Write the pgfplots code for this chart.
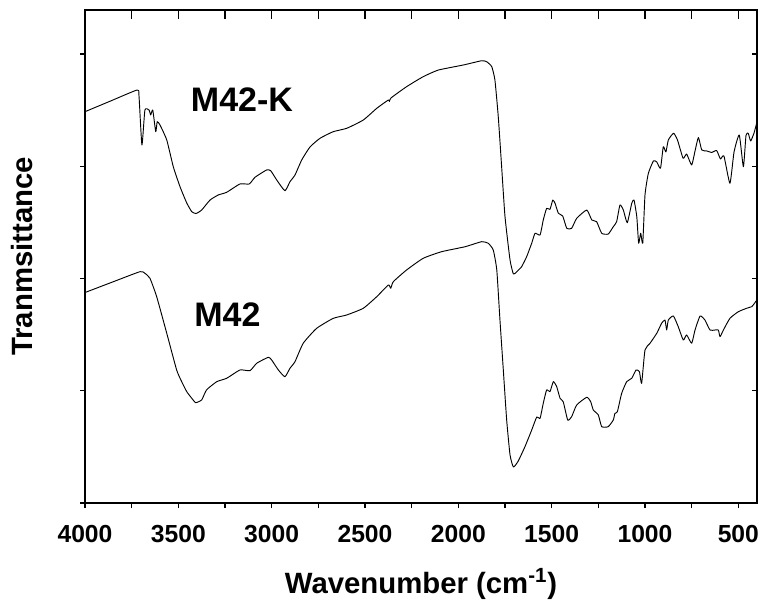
\documentclass[border=0pt]{standalone}
\usepackage{fontspec}
\setmainfont{Liberation Sans}
\usepackage{pgfplots}
\pgfplotsset{compat=1.18}

% FTIR spectra, offset vertically (arbitrary transmittance units)
\pgfplotstableread{
wn    T
4000  3.486
3866  3.579
3721  3.679
3711  3.635
3695  3.189
3679  3.501
3657  3.501
3648  3.457
3637  3.501
3621  3.308
3613  3.397
3598  3.367
3562  3.234
3527  2.996
3491  2.818
3455  2.673
3428  2.595
3405  2.579
3375  2.610
3330  2.699
3286  2.744
3241  2.768
3170  2.842
3120  2.842
3089  2.902
3027  2.967
3005  2.960
2973  2.878
2929  2.782
2902  2.862
2875  2.922
2839  3.056
2795  3.171
2741  3.249
2670  3.308
2598  3.338
2509  3.412
2437  3.516
2375  3.590
2369  3.577
2361  3.608
2277  3.709
2188  3.798
2107  3.857
1973  3.902
1875  3.940
1848  3.931
1821  3.887
1804  3.768
1786  3.441
1768  2.996
1750  2.551
1723  2.165
1705  2.040
1687  2.061
1661  2.105
1634  2.194
1607  2.314
1589  2.403
1562  2.388
1545  2.521
1527  2.625
1509  2.616
1494  2.699
1482  2.670
1464  2.581
1441  2.557
1419  2.447
1393  2.447
1366  2.536
1312  2.610
1285  2.521
1259  2.506
1232  2.403
1197  2.396
1170  2.461
1152  2.506
1134  2.655
1116  2.610
1095  2.497
1071  2.670
1059  2.699
1044  2.551
1034  2.314
1023  2.403
1012  2.314
1000  2.744
982   2.937
955   3.047
937   3.038
917   2.982
902   3.174
888   3.127
875   3.234
847   3.294
826   3.234
796   3.071
777   3.109
750   3.011
732   3.136
714   3.256
696   3.145
669   3.136
643   3.123
616   3.140
596   3.065
577   3.091
545   2.848
523   3.127
495   3.278
473   2.996
459   3.274
447   3.294
434   3.225
416   3.296
400   3.394
}\mfortyk

\pgfplotstableread{
wn    T
4000  1.875
3866  1.960
3705  2.061
3679  2.046
3652  2.002
3616  1.838
3562  1.512
3509  1.185
3482  1.081
3455  0.992
3428  0.933
3407  0.894
3375  0.918
3349  1.007
3294  1.081
3241  1.111
3170  1.185
3116  1.179
3080  1.245
3018  1.298
3000  1.274
2964  1.185
2929  1.125
2902  1.200
2875  1.259
2831  1.423
2759  1.556
2670  1.645
2598  1.675
2509  1.735
2437  1.838
2375  1.942
2362  1.913
2348  1.972
2277  2.076
2188  2.180
2089  2.239
1964  2.283
1875  2.328
1840  2.314
1813  2.254
1794  2.076
1777  1.630
1759  1.185
1741  0.739
1723  0.428
1705  0.321
1679  0.374
1643  0.502
1607  0.650
1580  0.766
1562  0.755
1545  0.888
1527  1.007
1509  0.992
1491  1.081
1473  1.036
1455  0.933
1438  0.902
1414  0.739
1393  0.769
1366  0.873
1312  0.942
1291  0.902
1277  0.829
1250  0.784
1232  0.680
1197  0.680
1170  0.739
1161  0.799
1148  0.813
1125  0.977
1098  1.081
1071  1.111
1048  1.185
1030  1.170
1018  1.066
1000  1.363
973   1.423
937   1.512
911   1.601
893   1.630
884   1.541
875   1.630
848   1.666
822   1.571
795   1.452
777   1.497
750   1.423
732   1.541
705   1.666
679   1.630
652   1.541
625   1.541
607   1.541
598   1.482
580   1.541
545   1.645
500   1.704
455   1.735
428   1.749
420   1.764
400   1.810
}\mforty

\pgfplotsset{
  ftir/.style={
    scale only axis, width=504pt, height=369.75pt,
    x dir=reverse, xmin=400, xmax=4000, ymin=0, ymax=4.392,
    axis line style={line width=1.1pt},
    tick style={line width=1.1pt, black},
  },
  spectrum/.style={black, line width=0.7pt, line join=round, smooth, tension=0.3},
}

\begin{document}
\begin{tikzpicture}
\begin{axis}[ftir, name=ax,
  xtick={500,1000,...,4000}, minor x tick num=1,
  ytick={0,1,2,3,4}, yticklabels={},
  xtick pos=bottom, ytick pos=left, tick align=outside,
  major tick length=3.75pt, minor tick length=3.75pt,
  /pgf/number format/1000 sep={},
  /pgf/number format/assume math mode=true,
  xticklabel style={font=\bfseries\fontsize{18.5}{20}\selectfont, anchor=base, yshift=-25.5pt},
  xlabel={Wavenumber (cm\textsuperscript{-1})},
  xlabel style={font=\bfseries\fontsize{22}{24}\selectfont, at={(axis description cs:0.5,-0.1826)}, anchor=base, inner sep=0pt},
  ylabel={Tranmsittance},
  ylabel style={font=\bfseries\fontsize{22}{24}\selectfont, at={(axis description cs:-0.0774,0.5)}, anchor=south, inner sep=0pt},
]
\addplot[spectrum] table[x=wn, y=T] {\mfortyk};
\addplot[spectrum] table[x=wn, y=T] {\mforty};
\node[font=\bfseries\fontsize{25.5}{28}\selectfont, inner sep=0pt] at (axis cs:3159,3.59) {M42-K};
\node[font=\bfseries\fontsize{25.5}{28}\selectfont, inner sep=0pt] at (axis cs:3237,1.675) {M42};
\end{axis}
% top ticks (inside)
\begin{axis}[ftir,
  xtick={500,750,...,3750}, xticklabels={}, ytick=\empty,
  xtick pos=top, tick align=inside, major tick length=7pt,
]
\end{axis}
% right ticks (inside)
\begin{axis}[ftir,
  xtick=\empty, ytick={1,2,3,4}, yticklabels={},
  ytick pos=right, tick align=inside, major tick length=3.75pt,
]
\end{axis}
\pgfresetboundingbox
\path ([shift={(-63.75pt,-74.25pt)}]ax.south west) rectangle ([shift={(3.75pt,7.5pt)}]ax.north east);
\end{tikzpicture}
\end{document}
